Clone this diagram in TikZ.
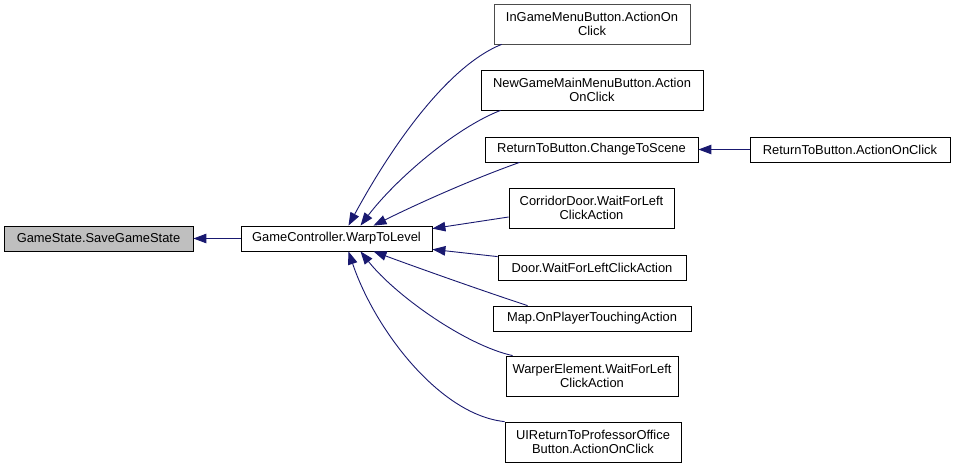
\documentclass[tikz,border=0pt]{standalone}
\usepackage{fontspec}
\setmainfont{Liberation Sans}
\usetikzlibrary{arrows.meta,calc}
\definecolor{edgeblue}{HTML}{191970}
\definecolor{hlgray}{HTML}{BFBFBF}
\begin{document}
\begin{tikzpicture}[x=1pt,y=-1pt,
  box/.style={draw=black,line width=0.8pt,fill=white,inner sep=0pt,align=center,
    font=\fontsize{12.9}{14}\selectfont},
  edge/.style={draw=edgeblue,line width=0.9pt,-{Triangle[length=13pt,width=9.5pt]}}]
\useasboundingbox (0,0) rectangle (956,468);
\fill[white] (0,0) rectangle (956,468);
\node[box,fill=hlgray,minimum width=189pt,minimum height=25pt] (save) at (98.5,238.5) {GameState.SaveGameState};
\node[box,minimum width=191pt,minimum height=25pt] (warp) at (336.5,238.5) {GameController.WarpToLevel};
\node[box,draw=black!70,minimum width=196pt,minimum height=40pt] (ingame) at (592,24) {InGameMenuButton.ActionOn\\Click};
\node[box,minimum width=222pt,minimum height=40pt] (newgame) at (592,90) {NewGameMainMenuButton.Action\\OnClick};
\node[box,minimum width=213pt,minimum height=25pt] (rtchange) at (591.5,149.5) {ReturnToButton.ChangeToScene};
\node[box,minimum width=200pt,minimum height=25pt] (rtaction) at (850,149.5) {ReturnToButton.ActionOnClick};
\node[box,minimum width=165pt,minimum height=40pt] (corridor) at (591.5,208) {CorridorDoor.WaitForLeft\\ClickAction};
\node[box,minimum width=188pt,minimum height=25pt] (door) at (592,267.5) {Door.WaitForLeftClickAction};
\node[box,minimum width=198pt,minimum height=25pt] (map) at (592,318.5) {Map.OnPlayerTouchingAction};
\node[box,minimum width=172pt,minimum height=40pt] (warper) at (592,376) {WarperElement.WaitForLeft\\ClickAction};
\node[box,minimum width=176pt,minimum height=40pt] (uireturn) at (593,442) {UIReturnToProfessorOffice\\Button.ActionOnClick};

\draw[edge] (warp.west) -- (save.east);
\draw[edge] (rtaction.west) -- (rtchange.east);
\draw[edge] ($(ingame.south west)+(8,0)$) .. controls (450,65) and (395,140) .. ($(warp.north)+(12,0)$);
\draw[edge] ($(newgame.south west)+(20,0)$) .. controls (455,128) and (395,180) .. ($(warp.north)+(24,0)$);
\draw[edge] ($(rtchange.south west)+(35,0)$) .. controls (470,180) and (415,205) .. ($(warp.north)+(37,0)$);
\draw[edge] ($(corridor.west)+(0,9)$) -- ($(warp.north east)+(0,3)$);
\draw[edge] ($(door.north west)+(0,2)$) -- ($(warp.south east)+(0,-2)$);
\draw[edge] ($(map.north west)+(35,0)$) .. controls (480,290) and (410,265) .. ($(warp.south)+(37,0)$);
\draw[edge] ($(warper.north west)+(7,0)$) .. controls (465,345) and (395,295) .. ($(warp.south)+(24,0)$);
\draw[edge] (uireturn.north west) .. controls (440,415) and (375,330) .. ($(warp.south)+(12,0)$);
\end{tikzpicture}
\end{document}
